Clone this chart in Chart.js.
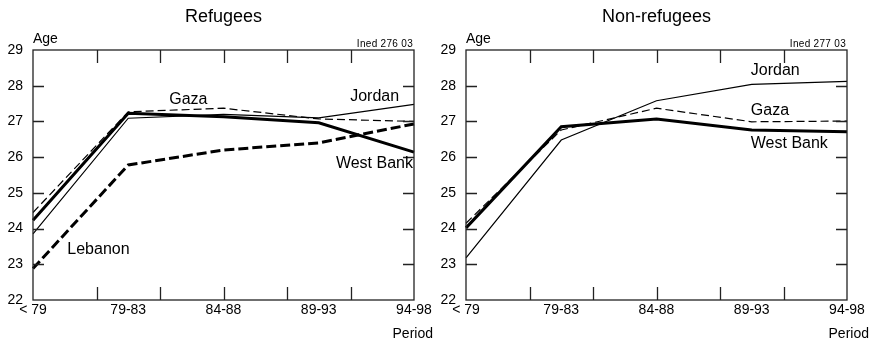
<!DOCTYPE html>
<html>
<head>
<meta charset="utf-8">
<script src="https://cdn.jsdelivr.net/npm/chart.js@4/dist/chart.umd.min.js"></script>
<style>
  body{margin:0;background:#fff;}
  #wrap{position:relative;width:872px;height:344px;}
  .box{position:absolute;top:0;width:436px;height:344px;}
</style>
</head>
<body>
<div id="wrap">
  <div class="box" style="left:0"><canvas id="left" width="436" height="344"></canvas></div>
  <div class="box" style="left:436px"><canvas id="right" width="436" height="344"></canvas></div>
</div>
<script>
const periods = ['< 79', '79-83', '84-88', '89-93', '94-98'];
const yTicks = [22, 23, 24, 25, 26, 27, 28, 29];

// refugees
const refJordan = [23.85, 27.09, 27.2, 27.1, 27.48];
const refGaza = [24.45, 27.27, 27.37, 27.07, 27.0];
const refWestBank = [24.23, 27.23, 27.13, 26.96, 26.14];
const refLebanon = [22.88, 25.78, 26.2, 26.4, 26.93];

// non-refugees
const nonJordan = [23.18, 26.48, 27.58, 28.04, 28.12];
const nonGaza = [24.15, 26.76, 27.37, 26.99, 27.01];
const nonWestBank = [24.02, 26.85, 27.07, 26.76, 26.71];

const FONT = "'Liberation Sans', Arial, sans-serif";

function serie(label, data, thick, dashed){
  return {
    label: label,
    data: data,
    borderColor: '#000',
    borderWidth: thick ? 3 : 1.2,
    borderDash: dashed ? (thick ? [10, 4] : [8, 4]) : [],
    pointRadius: 0,
    tension: 0,
    fill: false
  };
}

// box, inward ticks and texts
const deco = {
  id: 'deco',
  afterDraw(chart, args, opts){
    const ctx = chart.ctx;
    const a = chart.chartArea;
    const x = chart.scales.x, y = chart.scales.y;
    ctx.save();
    ctx.strokeStyle = '#222';
    ctx.lineWidth = 1.3;
    ctx.strokeRect(a.left, a.top, a.right - a.left, a.bottom - a.top);
    ctx.beginPath();
    for (let v = 23; v <= 28; v++) {
      const py = Math.round(y.getPixelForValue(v)) + 0.5;
      ctx.moveTo(a.left, py); ctx.lineTo(a.left + 11, py);
      ctx.moveTo(a.right, py); ctx.lineTo(a.right - 11, py);
    }
    for (let k = 1; k <= 5; k++) {
      const px = Math.round(x.getPixelForValue(k * 2 / 3)) + 0.5;
      ctx.moveTo(px, a.bottom); ctx.lineTo(px, a.bottom - 13);
      ctx.moveTo(px, a.top); ctx.lineTo(px, a.top + 13);
    }
    ctx.stroke();

    ctx.fillStyle = '#000';
    ctx.textBaseline = 'alphabetic';
    ctx.font = '18px ' + FONT;
    ctx.textAlign = 'center';
    ctx.fillText(opts.title, (a.left + a.right) / 2, 22);

    ctx.font = '14px ' + FONT;
    ctx.textAlign = 'left';
    ctx.fillText('Age', a.left, 43);
    ctx.textAlign = 'right';
    ctx.fillText('Period', chart.width - 3, 338);

    ctx.font = '10px ' + FONT;
    ctx.letterSpacing = '0.3px';
    ctx.fillText(opts.ined, a.right - 1, 47);
    ctx.letterSpacing = '0px';

    ctx.font = '16px ' + FONT;
    ctx.textAlign = 'left';
    opts.labels.forEach(l => {
      ctx.fillText(l.text, x.getPixelForValue(l.x), y.getPixelForValue(l.y));
    });
    ctx.restore();
  }
};

function makeChart(id, datasets, title, ined, labels, axisWidth){
  new Chart(document.getElementById(id), {
    type: 'line',
    data: {labels: periods, datasets: datasets},
    options: {
      responsive: false,
      animation: false,
      layout: {padding: {top: 50, right: 436 - axisWidth - 381, bottom: 0, left: 0}},
      plugins: {
        legend: {display: false},
        tooltip: {enabled: false},
        deco: {title: title, ined: ined, labels: labels}
      },
      scales: {
        x: {
          type: 'category',
          offset: false,
          grid: {display: false, drawTicks: false},
          border: {display: false},
          ticks: {color: '#000', font: {family: FONT, size: 14}, padding: 2, autoSkip: false, maxRotation: 0},
          afterFit(s){ s.height = 44; }
        },
        y: {
          min: 22, max: 29,
          grid: {display: false, drawTicks: false},
          border: {display: false},
          afterBuildTicks(s){ s.ticks = yTicks.map(v => ({value: v})); },
          ticks: {color: '#000', font: {family: FONT, size: 14}, padding: 10},
          afterFit(s){ s.width = axisWidth; }
        }
      }
    },
    plugins: [deco]
  });
}

makeChart('left', [
  serie('Jordan', refJordan, false, false),
  serie('Gaza', refGaza, false, true),
  serie('West Bank', refWestBank, true, false),
  serie('Lebanon', refLebanon, true, true)
], 'Refugees', 'Ined 276 03', [
  {text: 'Gaza', x: 1.43, y: 27.49},
  {text: 'Jordan', x: 3.33, y: 27.57},
  {text: 'West Bank', x: 3.18, y: 25.7},
  {text: 'Lebanon', x: 0.36, y: 23.29}
], 33);

makeChart('right', [
  serie('Jordan', nonJordan, false, false),
  serie('Gaza', nonGaza, false, true),
  serie('West Bank', nonWestBank, true, false)
], 'Non-refugees', 'Ined 277 03', [
  {text: 'Jordan', x: 2.99, y: 28.3},
  {text: 'Gaza', x: 2.99, y: 27.18},
  {text: 'West Bank', x: 2.99, y: 26.26}
], 30);
</script>
</body>
</html>
